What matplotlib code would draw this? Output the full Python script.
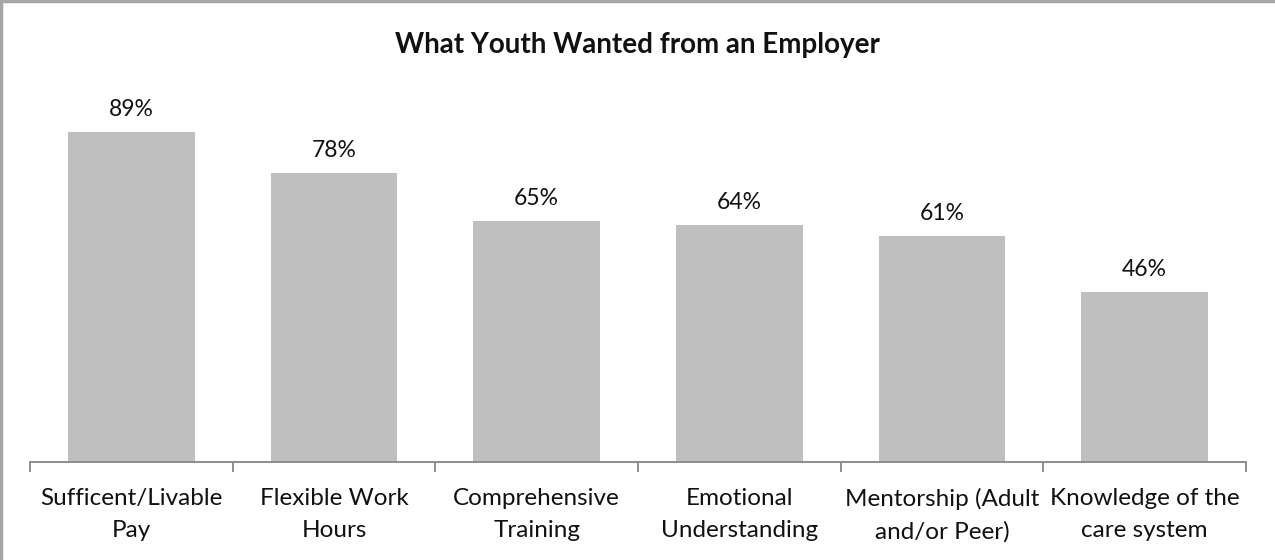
import matplotlib.pyplot as plt
from matplotlib.lines import Line2D

categories = [
    "Sufficent/Livable\nPay",
    "Flexible Work\nHours",
    "Comprehensive\nTraining",
    "Emotional\nUnderstanding",
    "Mentorship (Adult\nand/or Peer)",
    "Knowledge of the\ncare system",
]
values = [0.89, 0.78, 0.65, 0.64, 0.61, 0.46]
labels = ["89%", "78%", "65%", "64%", "61%", "46%"]

plt.rcParams["font.family"] = ["Lato", "DejaVu Sans"]

fig = plt.figure(figsize=(12.75, 5.6), dpi=100)
ax = fig.add_axes([30 / 1275, 1 - 462 / 560, 1216 / 1275, 370.5 / 560])

x = list(range(len(categories)))
bars = ax.bar(x, values, width=0.625, color="#bfbfbf")

for bar, txt in zip(bars, labels):
    ax.annotate(txt, (bar.get_x() + bar.get_width() / 2, bar.get_height()),
                xytext=(0, 16), textcoords="offset pixels",
                ha="center", va="baseline", fontsize=16.5, color="#111111")

ax.set_xlim(-0.5, len(categories) - 0.5)
ax.set_ylim(0, 1.0)
ax.set_yticks([])

ax.set_xticks(x)
ax.set_xticklabels(categories, fontsize=17.5, color="#111111", linespacing=1.6)
ax.tick_params(axis="x", which="major", length=0, pad=19)
ax.set_xticks([i - 0.5 for i in range(len(categories) + 1)], minor=True)
ax.tick_params(axis="x", which="minor", length=7, width=1.3, color="#868686", direction="out")

for side in ["top", "right", "left"]:
    ax.spines[side].set_visible(False)
ax.spines["bottom"].set_color("#868686")
ax.spines["bottom"].set_linewidth(1.3)

fig.text(0.5, 1 - 45 / 560, "What Youth Wanted from an Employer",
         ha="center", va="center", fontsize=20, fontweight="bold", color="#111111")

# outer frame on the left and top edges
fig.add_artist(Line2D([0.001, 0.001], [0, 1], transform=fig.transFigure, color="#a6a6a6", lw=2.5))
fig.add_artist(Line2D([0, 1], [0.999, 0.999], transform=fig.transFigure, color="#a6a6a6", lw=2.5))

fig.savefig("out.png", dpi=100)
